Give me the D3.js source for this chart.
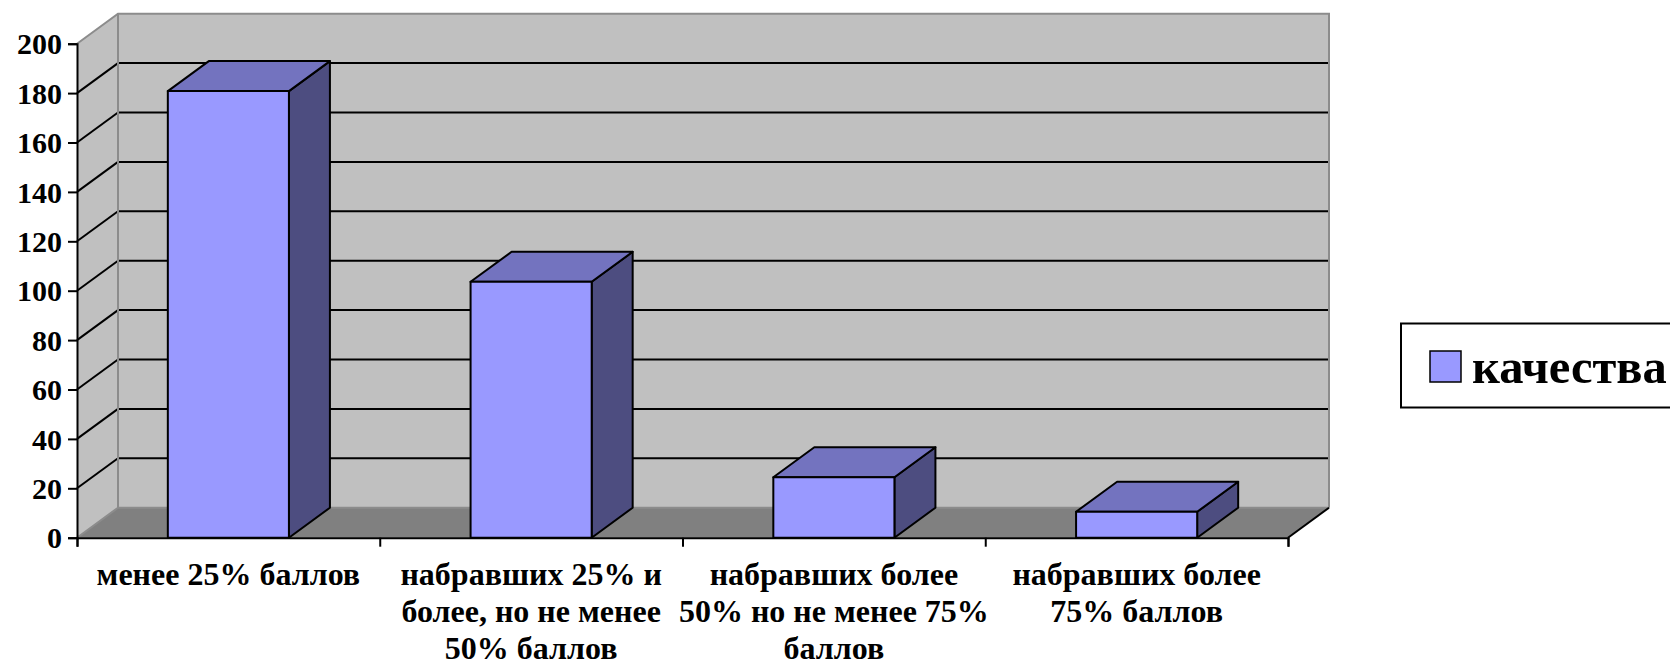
<!DOCTYPE html>
<html lang="ru">
<head>
<meta charset="UTF-8">
<title>качества</title>
<script src="https://cdn.jsdelivr.net/npm/d3@7"></script>
<style>
    html, body { margin: 0; padding: 0; background: #fff; }
    svg { display: block; }
    svg text { font-family: "Liberation Serif", "Times New Roman", serif; font-weight: bold; }
</style>
</head>
<body>
<svg id="chart" width="1670" height="668"></svg>
<script>
// data
const categories = ["c1", "c2", "c3", "c4"];
const categoryLines = [
    ["менее 25% баллов"],
    ["набравших 25% и", "более, но не менее", "50% баллов"],
    ["набравших более", "50% но не менее 75%", "баллов"],
    ["набравших более", "75% баллов"]
];
const values = [180.8, 103.6, 24.5, 10.5];
const seriesName = "качества";
const yTicks = [0, 20, 40, 60, 80, 100, 120, 140, 160, 180, 200];

const svg = d3.select("#chart");

// plot geometry (front plane + depth offset)
const x0 = 77, x1 = 1288, yBottom = 537.7, yTop = 43.7;
const dx = 41, dy = -30;

const y = d3.scaleLinear().domain([0, 200]).range([yBottom, yTop]);
const x = d3.scaleBand().domain(categories).range([x0, x1])
    .paddingInner(0.6).paddingOuter(0.3);
const edge = d3.scaleLinear().domain([0, categories.length]).range([x0, x1]);

const pts = a => a.map(p => p.join(",")).join(" ");

// walls and floor
svg.append("polygon") // left wall
    .attr("points", pts([[x0, yBottom], [x0, y(200)], [x0 + dx, y(200) + dy], [x0 + dx, yBottom + dy]]))
    .attr("fill", "#c0c0c0");
svg.append("rect") // back wall
    .attr("x", x0 + dx).attr("y", y(200) + dy)
    .attr("width", x1 - x0).attr("height", yBottom - y(200))
    .attr("fill", "#c0c0c0");
svg.append("polygon") // floor
    .attr("points", pts([[x0, yBottom], [x1, yBottom], [x1 + dx, yBottom + dy], [x0 + dx, yBottom + dy]]))
    .attr("fill", "#808080");

// gridlines
const grid = svg.append("g").attr("stroke", "#000").attr("stroke-width", 2);
yTicks.filter(v => v > 0 && v < 200).forEach(v => {
    grid.append("line")
        .attr("x1", x0 + dx).attr("x2", x1 + dx)
        .attr("y1", y(v) + dy).attr("y2", y(v) + dy);
    grid.append("line")
        .attr("x1", x0).attr("y1", y(v))
        .attr("x2", x0 + dx).attr("y2", y(v) + dy);
});

// wall edges
svg.append("path")
    .attr("d", `M${x0},${y(200)} L${x0 + dx},${y(200) + dy} L${x1 + dx},${y(200) + dy} L${x1 + dx},${yBottom + dy}
                M${x0 + dx},${y(200) + dy} L${x0 + dx},${yBottom + dy} L${x1 + dx},${yBottom + dy}
                M${x0},${yBottom} L${x0 + dx},${yBottom + dy}`)
    .attr("fill", "none").attr("stroke", "#8c8c8c").attr("stroke-width", 2);
svg.append("line")
    .attr("x1", x1).attr("y1", yBottom).attr("x2", x1 + dx).attr("y2", yBottom + dy)
    .attr("stroke", "#000").attr("stroke-width", 2);

// bars
const bars = svg.append("g").attr("stroke", "#000").attr("stroke-width", 2).attr("stroke-linejoin", "round");
categories.forEach((c, i) => {
    const bx = x(c), bw = x.bandwidth(), top = y(values[i]);
    const g = bars.append("g");
    g.append("polygon")
        .attr("points", pts([[bx + bw, yBottom], [bx + bw + dx, yBottom + dy], [bx + bw + dx, top + dy], [bx + bw, top]]))
        .attr("fill", "#4d4d80");
    g.append("polygon")
        .attr("points", pts([[bx, top], [bx + bw, top], [bx + bw + dx, top + dy], [bx + dx, top + dy]]))
        .attr("fill", "#7373bf");
    g.append("rect")
        .attr("x", bx).attr("y", top).attr("width", bw).attr("height", yBottom - top)
        .attr("fill", "#9999ff");
});

// y axis
const yAxis = svg.append("g")
    .attr("transform", `translate(${x0},0)`)
    .call(d3.axisLeft(y).tickValues(yTicks).tickSize(9).tickPadding(6));
yAxis.attr("font-family", null).attr("font-size", null);
yAxis.select(".domain").attr("stroke", "#000").attr("stroke-width", 2);
yAxis.selectAll(".tick line").attr("stroke", "#000").attr("stroke-width", 2);
yAxis.selectAll(".tick text")
    .style("font-size", "30px")
    .attr("fill", "#000").attr("dy", "0.34em");

// x axis
const xAxis = svg.append("g")
    .attr("transform", `translate(0,${yBottom})`)
    .call(d3.axisBottom(edge).tickValues(d3.range(categories.length + 1)).tickSize(9).tickFormat(""));
xAxis.select(".domain").attr("stroke", "#000").attr("stroke-width", 2);
xAxis.selectAll(".tick line").attr("stroke", "#000").attr("stroke-width", 2);

// category labels
const labels = svg.append("g").attr("text-anchor", "middle").attr("fill", "#000");
categories.forEach((c, i) => {
    const t = labels.append("text")
        .style("font-size", "32px")
        .attr("x", x(c) + x.bandwidth() / 2).attr("y", 585);
    categoryLines[i].forEach((line, j) => {
        t.append("tspan")
            .attr("x", x(c) + x.bandwidth() / 2)
            .attr("dy", j === 0 ? 0 : 37)
            .text(line);
    });
});

// legend
const legend = svg.append("g");
legend.append("rect")
    .attr("x", 1401).attr("y", 323.5).attr("width", 300).attr("height", 84)
    .attr("fill", "#fff").attr("stroke", "#000").attr("stroke-width", 2);
legend.append("rect")
    .attr("x", 1430).attr("y", 351).attr("width", 31).attr("height", 31)
    .attr("fill", "#9999ff").attr("stroke", "#000").attr("stroke-width", 1.5);
legend.append("text")
    .attr("x", 1472).attr("y", 382.5)
    .style("font-size", "48.5px").attr("fill", "#000")
    .text(seriesName);
</script>
</body>
</html>
